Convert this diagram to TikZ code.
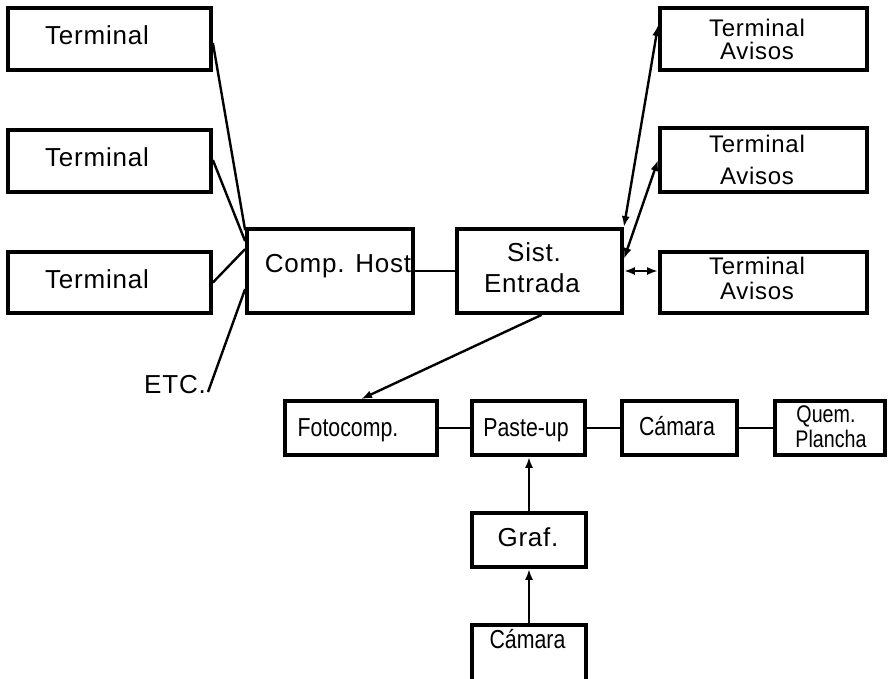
\documentclass[tikz,border=0pt]{standalone}
\usepackage{fontspec}
\setmainfont{Liberation Sans}
\newfontfamily\widesans[LetterSpace=3]{Liberation Sans}
\newfontfamily\narrowsans[FakeStretch=0.82]{Liberation Sans}
\usetikzlibrary{arrows.meta,calc}

\tikzset{
  blk/.style={draw, line width=3.8pt, inner sep=0pt},
  lbl/.style={inner sep=0pt, anchor=base},
  wfont/.style={font={\widesans\fontsize{26}{26}\selectfont}},
  afont/.style={font={\widesans\fontsize{24}{24}\selectfont}},
  nfont/.style={font={\narrowsans\fontsize{26}{26}\selectfont}},
  qfont/.style={font={\narrowsans\fontsize{24}{24}\selectfont}},
  wire/.style={line width=2.4pt},
  arr/.style={wire, -{Latex[length=11pt,width=8pt]}},
  darr/.style={wire, {Latex[length=11pt,width=8pt]}-{Latex[length=11pt,width=8pt]}}
}

\begin{document}
\begin{tikzpicture}[x=1pt,y=-1pt]
\useasboundingbox (0,0) rectangle (888,678);

% terminals feeding the host
\node[blk, minimum width=203pt, minimum height=62pt] (t1) at (109.5,39) {};
\node[blk, minimum width=203pt, minimum height=62pt] (t2) at (109.5,161) {};
\node[blk, minimum width=203pt, minimum height=61pt] (t3) at (109.5,282.5) {};
\node[lbl, wfont] (t1txt) at (97,44) {Terminal};
\node[lbl, wfont] (t2txt) at (97,166) {Terminal};
\node[lbl, wfont] (t3txt) at (97,288) {Terminal};
\node[lbl, wfont, anchor=base east] (etc) at (206,393) {ETC.};

% central systems
\node[blk, minimum width=166pt, minimum height=84pt] (host) at (330,271) {};
\node[lbl, wfont] (hosttxt) at (338,272) {Comp. Host};
\node[blk, minimum width=165pt, minimum height=84pt] (sist) at (539.5,271) {};
\node[lbl, wfont] (sisttxt1) at (534,261) {Sist.};
\node[lbl, wfont] (sisttxt2) at (532,292) {Entrada};

% classified-ad terminals
\node[blk, minimum width=207pt, minimum height=62pt] (ta1) at (763.5,39) {};
\node[lbl, afont] (ta1a) at (757,36) {Terminal};
\node[lbl, afont] (ta1b) at (757,59) {Avisos};
\node[blk, minimum width=207pt, minimum height=64pt] (ta2) at (763.5,160) {};
\node[lbl, afont] (ta2a) at (757,152) {Terminal};
\node[lbl, afont] (ta2b) at (757,184) {Avisos};
\node[blk, minimum width=207pt, minimum height=61pt] (ta3) at (763.5,282.5) {};
\node[lbl, afont] (ta3a) at (757,274) {Terminal};
\node[lbl, afont] (ta3b) at (757,299) {Avisos};

% production line
\node[blk, minimum width=152pt, minimum height=54pt] (foto) at (361,428) {};
\node[lbl, nfont] (fototxt) at (348,436) {Fotocomp.};
\node[blk, minimum width=113pt, minimum height=54pt] (paste) at (528.5,428) {};
\node[lbl, nfont] (pastetxt) at (526,436) {Paste-up};
\node[blk, minimum width=115pt, minimum height=54pt] (cam) at (679.5,428) {};
\node[lbl, nfont] (camtxt) at (677,435) {Cámara};
\node[blk, minimum width=110pt, minimum height=54pt] (quem) at (830,428) {};
\node[lbl, qfont] (quemtxt1) at (826,422) {Quem.};
\node[lbl, qfont] (quemtxt2) at (831,447) {Plancha};

\node[blk, minimum width=114pt, minimum height=54pt] (graf) at (529,540) {};
\node[lbl, wfont] (graftxt) at (528,546) {Graf.};
\node[blk, minimum width=114pt, minimum height=56pt] (cam2) at (529,653) {};
\node[lbl, nfont] (cam2txt) at (527.5,648) {Cámara};

% connectors on the input side
\draw[wire] ($(t1.east)+(0,4)$) -- ($(host.north west)+(0,3)$);
\draw[wire] ($(t2.east)+(0,-1)$) -- ($(host.north west)+(0,14)$);
\draw[wire] (t3.east) -- ($(host.north west)+(0,22)$);
\draw[wire] ($(etc.base east)+(2,-1)$) -- ($(host.north west)+(0,62)$);
\draw[wire] (host.east) -- (sist.west);

% two-way links to the ad terminals
\draw[darr] (sist.north east) -- ($(ta1.west)+(0,-14)$);
\draw[darr] ($(sist.east)+(0,-12)$) -- (ta2.west);
\draw[darr] (sist.east) -- (sist.east -| ta3.west);

% output to production
\draw[arr] ($(sist.south)+(2,0)$) -- (foto.north);
\draw[wire] (foto.east) -- (paste.west);
\draw[wire] (paste.east) -- (cam.west);
\draw[wire] (cam.east) -- (quem.west);
\draw[arr] (graf.north) -- (graf.north |- paste.south);
\draw[arr] (cam2.north) -- (graf.south);
\end{tikzpicture}
\end{document}
